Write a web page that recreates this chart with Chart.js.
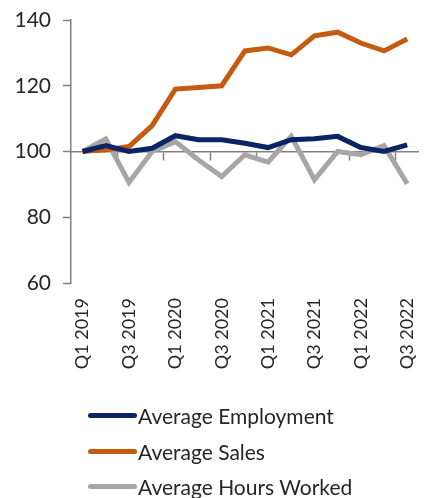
<!DOCTYPE html>
<html>
<head>
<meta charset="utf-8">
<script src="https://cdn.jsdelivr.net/npm/chart.js@4.4.0/dist/chart.umd.min.js"></script>
<style>
  html, body { margin: 0; padding: 0; background: #ffffff; }
  #wrap { position: relative; width: 444px; height: 498px; overflow: hidden; }
  #box { position: absolute; left: 0; top: 0; width: 444px; height: 400px; }
  #legend { position: absolute; left: 88px; top: 398px; font-family: Lato, "Open Sans", sans-serif; font-size: 21px; color: #262626; }
  .item { display: flex; align-items: center; height: 35.5px; }
  .swatch { width: 49px; height: 5px; border-radius: 3px; margin-right: 1px; }
</style>
</head>
<body>
<div id="wrap">
  <div id="box"><canvas id="c"></canvas></div>
  <div id="legend"></div>
</div>
<script>
const quarters = ["Q1 2019","Q2 2019","Q3 2019","Q4 2019","Q1 2020","Q2 2020","Q3 2020","Q4 2020","Q1 2021","Q2 2021","Q3 2021","Q4 2021","Q1 2022","Q2 2022","Q3 2022"];
const employment = [100, 101.8, 100, 101, 104.8, 103.6, 103.6, 102.5, 101.2, 103.6, 103.9, 104.6, 101.2, 100, 102];
const sales = [100, 100.5, 101.5, 107.9, 119, 119.5, 120, 130.6, 131.5, 129.4, 135.2, 136.3, 133, 130.6, 134.2];
const hours = [100, 103.8, 90.6, 100, 103, 97.4, 92.4, 99, 96.8, 104.6, 91.4, 100, 99, 101.8, 90.2];
const seriesNames = ["Average Employment", "Average Sales", "Average Hours Worked"];
const seriesColors = ["#0b2466", "#c55a11", "#a6a6a6"];
const yTicks = [60, 80, 100, 120, 140];

const axisColor = "#808080";
const fontFam = "Lato, 'Open Sans', sans-serif";

const datasets = [employment, sales, hours].map((d, i) => ({
  label: seriesNames[i],
  data: d,
  borderColor: seriesColors[i],
  backgroundColor: seriesColors[i],
  borderWidth: 5,
  pointRadius: 0,
  tension: 0,
  xAxisID: "x",
  yAxisID: "y"
}));

const chart = new Chart(document.getElementById("c"), {
  type: "line",
  data: { labels: quarters, datasets: datasets },
  options: {
    responsive: true,
    maintainAspectRatio: false,
    animation: false,
    layout: { padding: { top: 20, right: 6, bottom: 0, left: 0 } },
    plugins: { legend: { display: false }, tooltip: { enabled: false } },
    scales: {
      x: {
        type: "category",
        position: "bottom",
        offset: true,
        border: { display: false },
        grid: { display: false, drawTicks: false },
        afterFit: (s) => { s.height = 117; },
        ticks: {
          autoSkip: false,
          maxRotation: 90,
          minRotation: 90,
          padding: 15,
          color: "#262626",
          font: { family: fontFam, size: 18 },
          callback: function (v, i) { return i % 2 === 0 ? this.getLabelForValue(v) : ""; }
        }
      },
      xMid: {
        type: "category",
        position: { y: 100 },
        offset: true,
        border: { display: true, color: axisColor, width: 1.5 },
        grid: {
          offset: true,
          drawOnChartArea: false,
          drawTicks: true,
          tickLength: 8,
          tickWidth: 1.5,
          tickColor: (ctx) => (ctx.index % 2 === 0 && ctx.index > 0 && ctx.index < quarters.length) ? axisColor : "rgba(0,0,0,0)"
        },
        ticks: { display: false }
      },
      y: {
        min: 60,
        max: 140,
        afterBuildTicks: (scale) => { scale.ticks = yTicks.map(v => ({ value: v })); },
        afterFit: (s) => { s.width = 71; s.paddingTop = 0; s.paddingBottom = 0; },
        border: { display: true, color: axisColor, width: 1.5 },
        grid: { drawOnChartArea: false, drawTicks: true, tickLength: 8, tickWidth: 1.5, tickColor: axisColor },
        ticks: { padding: 12, color: "#262626", font: { family: fontFam, size: 21 } }
      }
    }
  }
});

const legend = document.getElementById("legend");
chart.data.datasets.forEach(ds => {
  const row = document.createElement("div");
  row.className = "item";
  const sw = document.createElement("span");
  sw.className = "swatch";
  sw.style.background = ds.borderColor;
  const tx = document.createElement("span");
  tx.textContent = ds.label;
  row.appendChild(sw);
  row.appendChild(tx);
  legend.appendChild(row);
});
</script>
</body>
</html>
